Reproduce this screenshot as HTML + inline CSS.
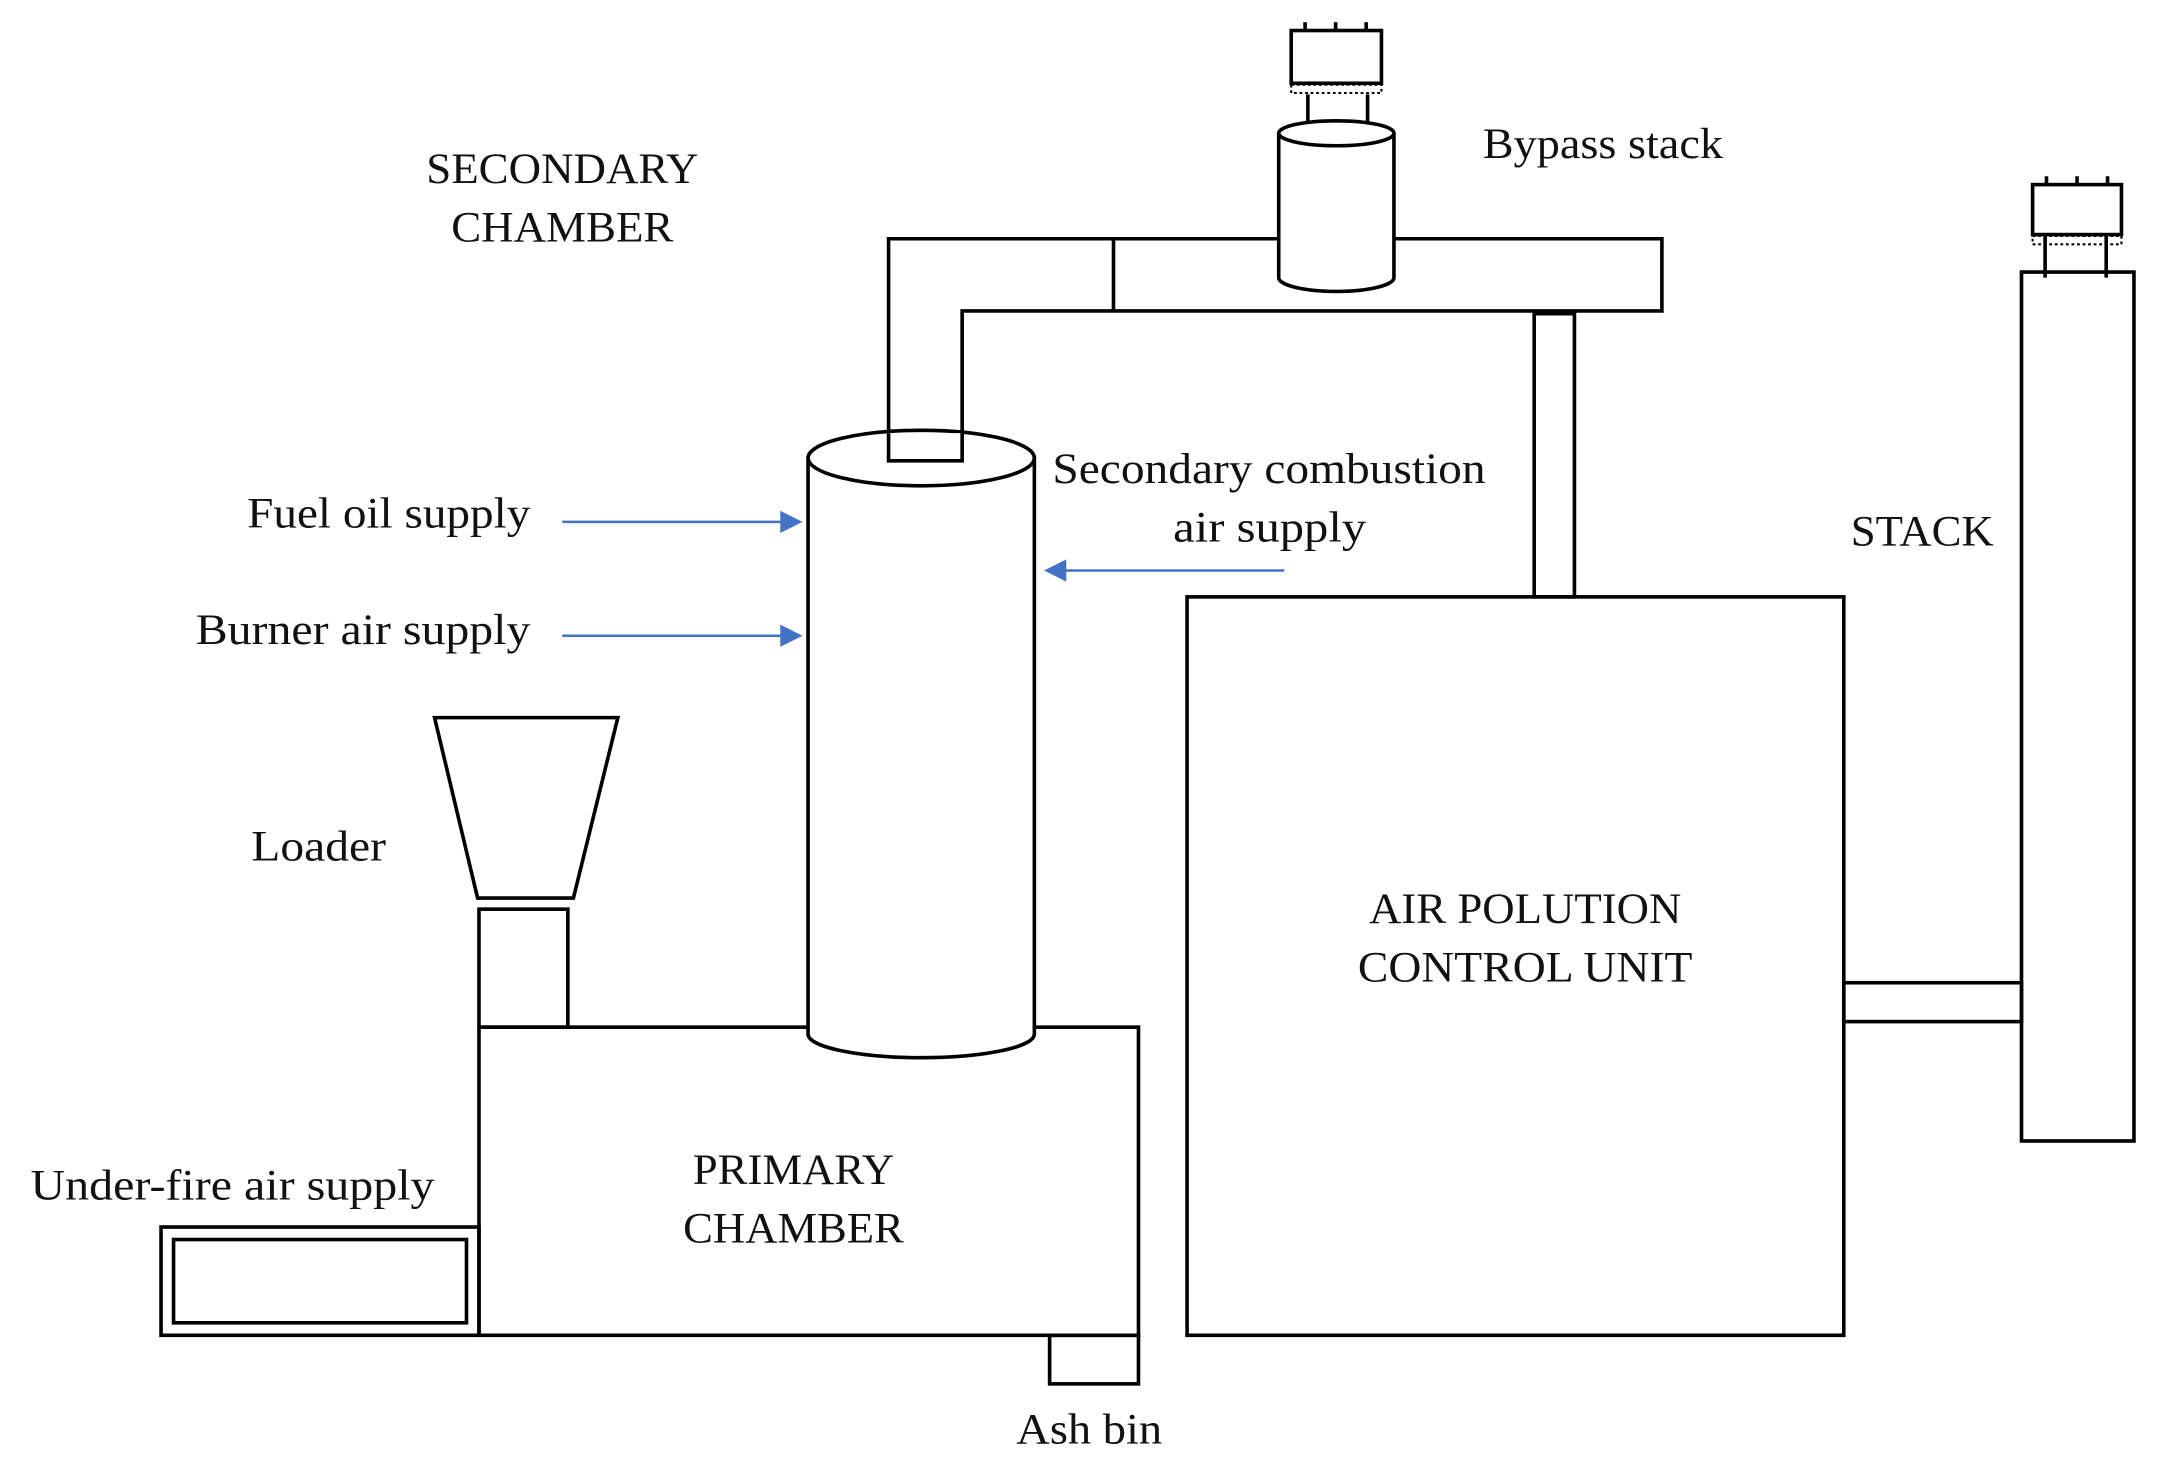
<!DOCTYPE html>
<html><head><meta charset="utf-8"><style>
html,body{margin:0;padding:0;background:#fff;}
svg{display:block;}
text{font-family:"Liberation Serif",serif;font-size:31px;fill:#111;}
</style></head><body>
<svg width="2177" height="1463" viewBox="0 0 1568 1054" preserveAspectRatio="none" xmlns="http://www.w3.org/2000/svg">
<g fill="none" stroke="#000" stroke-width="2.6">
<path d="M640,332 L640,172 L1197,172 L1197,224 L693,224 L693,332 Z" fill="#fff"/>
<line x1="802" y1="172" x2="802" y2="224"/>
<path d="M921,96 L921,200 A41.5,10 0 0 0 1004,200 L1004,96" fill="#fff"/>
<ellipse cx="962.5" cy="96" rx="41.5" ry="9" fill="#fff"/>
<line x1="942" y1="68" x2="942" y2="88"/><line x1="985" y1="68" x2="985" y2="88"/>
<rect x="930" y="22" width="65" height="38" fill="#fff"/>
<rect x="930" y="61" width="65" height="6" stroke-width="1.5" stroke-dasharray="2,2"/>
<line x1="940" y1="16" x2="940" y2="22"/><line x1="962" y1="16" x2="962" y2="22"/><line x1="984" y1="16" x2="984" y2="22"/>
<rect x="1105" y="226" width="29" height="204"/>
<rect x="855" y="430" width="473" height="532"/>
<rect x="1456" y="196" width="81" height="626"/>
<line x1="1473" y1="170" x2="1473" y2="200"/><line x1="1517" y1="170" x2="1517" y2="200"/>
<rect x="1464" y="133" width="64" height="36" fill="#fff"/>
<rect x="1464" y="170" width="64" height="6" stroke-width="1.5" stroke-dasharray="2,2"/>
<line x1="1474" y1="127" x2="1474" y2="133"/><line x1="1496" y1="127" x2="1496" y2="133"/><line x1="1518" y1="127" x2="1518" y2="133"/>
<rect x="1328" y="708" width="128" height="28"/>
<rect x="345" y="740" width="475" height="222"/>
<rect x="756" y="962" width="64" height="35"/>
<rect x="116" y="884" width="229" height="78"/>
<rect x="125" y="893" width="211" height="60"/>
<path d="M313,517 L445,517 L413,647 L344,647 Z"/>
<rect x="345" y="655" width="64" height="85"/>
<path d="M582,330 L582,745 A81.5,17 0 0 0 745,745 L745,330" fill="#fff"/>
<ellipse cx="663.5" cy="330" rx="81.5" ry="20" fill="#fff"/>
<path d="M640,312 L640,332 L693,332 L693,312" fill="#fff"/>
</g>
<g stroke="#4472c4" stroke-width="1.8" fill="#4472c4">
<line x1="405" y1="376" x2="565" y2="376"/><path d="M578,376 L562,368 L562,384 Z" stroke="none"/>
<line x1="405" y1="458" x2="565" y2="458"/><path d="M578,458 L562,450 L562,466 Z" stroke="none"/>
<line x1="925" y1="411" x2="765" y2="411"/><path d="M752,411 L768,403 L768,419 Z" stroke="none"/>
</g>
<g lengthAdjust="spacingAndGlyphs">
<text x="307" y="132" textLength="196" lengthAdjust="spacingAndGlyphs">SECONDARY</text>
<text x="325" y="174" textLength="160" lengthAdjust="spacingAndGlyphs">CHAMBER</text>
<text x="1068" y="114" textLength="173" lengthAdjust="spacingAndGlyphs">Bypass stack</text>
<text x="178" y="380" textLength="204" lengthAdjust="spacingAndGlyphs">Fuel oil supply</text>
<text x="141" y="464" textLength="241" lengthAdjust="spacingAndGlyphs">Burner air supply</text>
<text x="758" y="348" textLength="312" lengthAdjust="spacingAndGlyphs">Secondary combustion</text>
<text x="845" y="390" textLength="139" lengthAdjust="spacingAndGlyphs">air supply</text>
<text x="1333" y="393" textLength="103" lengthAdjust="spacingAndGlyphs">STACK</text>
<text x="181" y="620" textLength="97" lengthAdjust="spacingAndGlyphs">Loader</text>
<text x="986" y="665" textLength="225" lengthAdjust="spacingAndGlyphs">AIR POLUTION</text>
<text x="978" y="707" textLength="241" lengthAdjust="spacingAndGlyphs">CONTROL UNIT</text>
<text x="22" y="864" textLength="291" lengthAdjust="spacingAndGlyphs">Under-fire air supply</text>
<text x="499" y="853" textLength="145" lengthAdjust="spacingAndGlyphs">PRIMARY</text>
<text x="492" y="895" textLength="159" lengthAdjust="spacingAndGlyphs">CHAMBER</text>
<text x="732" y="1040" textLength="105" lengthAdjust="spacingAndGlyphs">Ash bin</text>
</g>
</svg>
</body></html>
